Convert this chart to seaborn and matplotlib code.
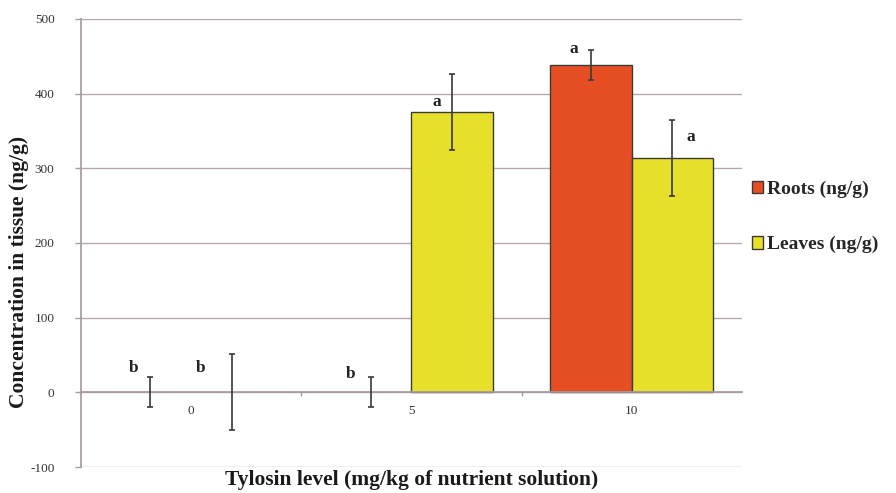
import matplotlib
matplotlib.use("Agg")
import matplotlib.pyplot as plt
import seaborn as sns
import pandas as pd

# Tylosin uptake in plant tissue
levels = ["0", "5", "10"]
roots_mean = [0, 0, 438]
roots_err = [20, 20, 20]
leaves_mean = [0, 375, 314]
leaves_err = [51, 51, 51]
roots_sig = ["b", "b", "a"]
leaves_sig = ["b", "a", "a"]
series_names = ["Roots (ng/g)", "Leaves (ng/g)"]
y_ticks = [-100, 0, 100, 200, 300, 400, 500]

df = pd.DataFrame({
    "level": levels * 2,
    "value": roots_mean + leaves_mean,
    "err": roots_err + leaves_err,
    "series": [series_names[0]] * 3 + [series_names[1]] * 3,
    "sig": roots_sig + leaves_sig,
})

sns.set_theme(style="white")
plt.rcParams["font.family"] = ["Liberation Serif", "DejaVu Serif"]

fig = plt.figure(figsize=(8.96, 4.93), dpi=100)
ax = fig.add_axes([0.0904, 0.0527, 0.7376, 0.9088])

palette = {series_names[0]: "#E64E24", series_names[1]: "#E7E02A"}
sns.barplot(data=df, x="level", y="value", hue="series", order=levels,
            hue_order=series_names, palette=palette, width=0.74,
            edgecolor="#3a3a3a", linewidth=1.0, errorbar=None, saturation=1,
            ax=ax)

# letter placement per bar (same order as df):
# x offset in bar widths, y offset from the top of the error bar
letter_layout = [(-0.21, 2), (-0.25, -6), (-0.21, -9),
                 (-0.38, -29), (-0.19, -48), (0.22, -34)]
patches = ax.patches[:len(df)]
for i, (p, (_, row)) in enumerate(zip(patches, df.iterrows())):
    if row["value"] == 0:
        p.set_linewidth(0)
    xc = p.get_x() + p.get_width() / 2
    ax.errorbar(xc, row["value"], yerr=row["err"], fmt="none",
                ecolor="#3a3a3a", elinewidth=1.2, capsize=2.5, capthick=1.2,
                zorder=4)
    dx, dy = letter_layout[i]
    ax.text(xc + dx * p.get_width(), row["value"] + row["err"] + dy,
            row["sig"], ha="center", va="bottom", fontsize=12.5,
            fontweight="bold", color="#222222", zorder=5)

ax.set_ylim(-100, 500)
ax.set_xlim(-0.5, 2.5)
ax.set_yticks(y_ticks)
ax.set_yticklabels([str(t) for t in y_ticks], fontsize=9.5, color="#333333")

# category axis crosses at zero; ticks mark category boundaries
ax.spines["bottom"].set_position(("data", 0))
ax.set_xticks([0.5, 1.5])
ax.set_xticklabels([])
ax.set_xticks([0, 1, 2], minor=True)
ax.set_xticklabels(levels, minor=True, fontsize=9.5, color="#333333")
ax.tick_params(axis="x", which="major", direction="out", length=3,
               color="#a89c9c", width=1, bottom=True)
ax.tick_params(axis="x", which="minor", length=0, pad=9)
ax.tick_params(axis="y", direction="out", length=4, color="#a89c9c",
               width=1, left=True, pad=15)

ax.grid(axis="y", color="#b5a9a9", linewidth=1)
ax.set_axisbelow(True)
for s in ["top", "right"]:
    ax.spines[s].set_visible(False)
ax.spines["left"].set_color("#a89c9c")
ax.spines["bottom"].set_color("#a89c9c")

ax.set_xlabel("Tylosin level (mg/kg of nutrient solution)", fontsize=15.5,
              fontweight="bold", color="#1a1a1a")
ax.xaxis.set_label_coords(0.5, -0.006)
ax.set_ylabel("Concentration in tissue (ng/g)", fontsize=15.5,
              fontweight="bold", color="#1a1a1a")
ax.yaxis.set_label_coords(-0.078, 0.435)

handles, labels = ax.get_legend_handles_labels()
ax.legend(handles, labels, loc="center left", bbox_to_anchor=(1.0, 0.558),
          borderaxespad=0.1, frameon=False, handlelength=0.6,
          handleheight=0.6, handletextpad=0.2, labelspacing=1.95,
          prop={"family": "Liberation Serif", "weight": "bold", "size": 14})

fig.savefig("out.png", dpi=100)
